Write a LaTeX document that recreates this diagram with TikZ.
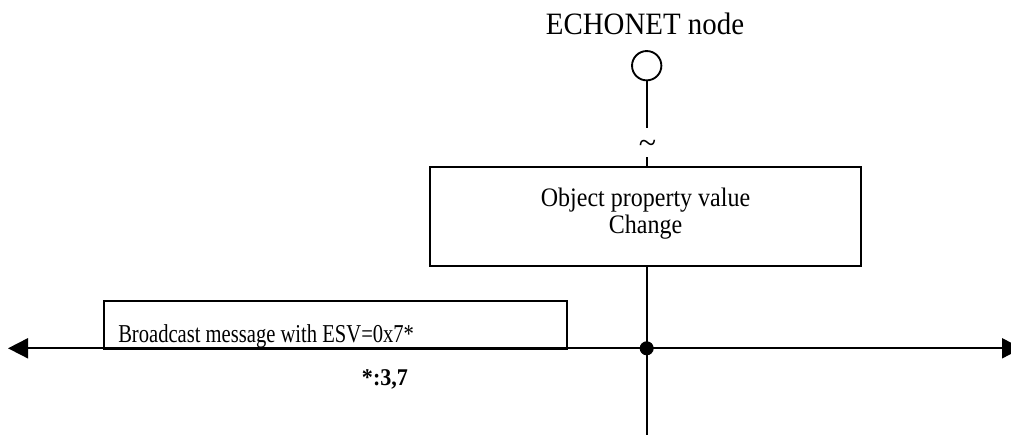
\documentclass[tikz,border=0pt]{standalone}
\usepackage{fontspec}
\setmainfont{Liberation Serif}
\newfontfamily\fEcho[FakeStretch=0.93]{Liberation Serif}
\newfontfamily\fObj[FakeStretch=0.9]{Liberation Serif}
\newfontfamily\fBc[FakeStretch=0.8]{Liberation Serif}
\newfontfamily\fNote[FakeStretch=0.92]{Liberation Serif}
\usetikzlibrary{arrows.meta}
\tikzset{
  ln/.style={line width=1.4pt},
  boxst/.style={draw, line width=1.6pt, inner sep=0pt},
  lbl/.style={inner sep=0pt, anchor=base},
}
\begin{document}
\begin{tikzpicture}[x=0.75pt,y=-0.75pt]
\clip (0,0) rectangle (1011,435);
\fill[white] (0,0) rectangle (1011,435);
% title
\node (title) [lbl, font=\fEcho\fontsize{23.3pt}{27pt}\selectfont] at (645,35) {ECHONET node};
% node circle
\node (echo) [circle, draw, line width=1.4pt, minimum size=22pt, inner sep=0pt] at (646.7,65.7) {};
\coordinate (t1) at (646.7,128);
\coordinate (t2) at (646.7,157);
\coordinate (bot) at (646.7,436);
\node (tilde) [inner sep=0pt, font=\fontsize{24pt}{26pt}\selectfont] at (647.5,147) {\char"007E};
% object box
\node (obj) [boxst, minimum width=323.25pt, minimum height=74.5pt] at (645.5,216.3) {};
\node (objt1) [lbl, font=\fObj\fontsize{20pt}{24pt}\selectfont] at (645.5,206.7) {Object property value};
\node (objt2) [lbl, font=\fObj\fontsize{20pt}{24pt}\selectfont] at (645.5,233) {Change};
% vertical line
\draw[ln] (echo.south) -- (t1);
\draw[ln] (t2) -- (t2 |- obj.north);
\draw[ln] (t2 |- obj.south) -- (bot);
% horizontal bus
\coordinate (L) at (8,348.3);
\coordinate (R) at (1022,348.3);
\draw[ln, {Triangle[length=15pt,width=15pt]}-{Triangle[length=15pt,width=15pt]}] (L) -- (R);
\node (dot) [circle, fill, inner sep=0pt, minimum size=10.5pt] at (646.7,348.3) {};
% broadcast box
\node (bc) [boxst, minimum width=347.25pt, minimum height=35.85pt] at (335.5,324.6) {};
\node (bct) [lbl, anchor=base west, font=\fBc\fontsize{19.3pt}{22pt}\selectfont] at (118,342.3) {Broadcast message with ESV=0x7*};
\node (note) [lbl, anchor=base west, font=\fNote\bfseries\fontsize{18pt}{22pt}\selectfont] at (361.7,385) {*:3,7};
\end{tikzpicture}
\end{document}
